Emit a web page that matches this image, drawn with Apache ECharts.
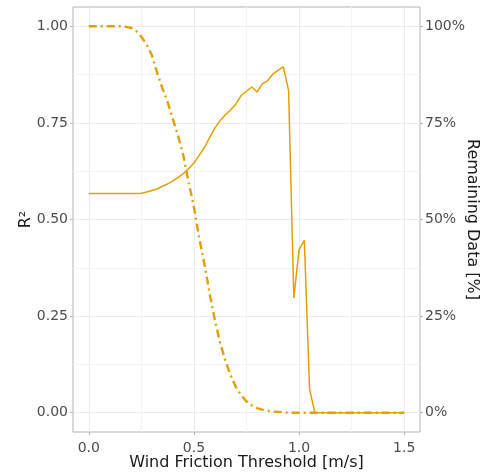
<!DOCTYPE html>
<html>
<head>
<meta charset="utf-8">
<script src="https://cdn.jsdelivr.net/npm/echarts@6/dist/echarts.min.js"></script>
<style>
  html, body { margin: 0; padding: 0; background: #fff; }
  #chart { width: 482px; height: 472px; }
</style>
</head>
<body>
<div id="chart"></div>
<script>
// wind friction thresholds [m/s]
var thresholds = [
  0, 0.025, 0.05, 0.075, 0.1, 0.125, 0.15, 0.175, 0.2, 0.225,
  0.25, 0.275, 0.3, 0.325, 0.35, 0.375, 0.4, 0.425, 0.45, 0.475,
  0.5, 0.525, 0.55, 0.575, 0.6, 0.625, 0.65, 0.675, 0.7, 0.725,
  0.75, 0.775, 0.8, 0.825, 0.85, 0.875, 0.9, 0.925, 0.95, 0.975,
  1.0, 1.025, 1.05, 1.075, 1.1, 1.125, 1.15, 1.175, 1.2, 1.225,
  1.25, 1.275, 1.3, 1.325, 1.35, 1.375, 1.4, 1.425, 1.45, 1.475, 1.5
];

// R² of the fit
var rSquared = [
  0.567, 0.567, 0.567, 0.567, 0.567, 0.567, 0.567, 0.567, 0.567, 0.567,
  0.568, 0.571, 0.575, 0.579, 0.586, 0.592, 0.600, 0.609, 0.619, 0.632,
  0.646, 0.666, 0.687, 0.712, 0.737, 0.756, 0.771, 0.784, 0.799, 0.821,
  0.832, 0.843, 0.830, 0.851, 0.859, 0.876, 0.886, 0.895, 0.835, 0.297,
  0.422, 0.446, 0.060, 0, 0, 0, 0, 0, 0, 0,
  0, 0, 0, 0, 0, 0, 0, 0, 0, 0, 0
];

// share of data remaining (0..1)
var remaining = [
  1.0, 1.0, 1.0, 1.0, 1.0, 1.0, 1.0, 0.999, 0.996, 0.988,
  0.973, 0.953, 0.925, 0.880, 0.840, 0.804, 0.760, 0.716, 0.665, 0.596,
  0.532, 0.452, 0.385, 0.307, 0.239, 0.180, 0.134, 0.096, 0.066, 0.045,
  0.029, 0.019, 0.012, 0.008, 0.005, 0.003, 0.002, 0.001, 0, 0,
  0, 0, 0, 0, 0, 0, 0, 0, 0, 0,
  0, 0, 0, 0, 0, 0, 0, 0, 0, 0, 0
];

var xTicks = [0, 0.5, 1.0, 1.5];
var xMinor = [0.25, 0.75, 1.25];
var yTicks = [0, 0.25, 0.5, 0.75, 1.0];
var yMinor = [0.125, 0.375, 0.625, 0.875];

var orange = '#E69F00';
var font = '"DejaVu Sans", sans-serif';

var chart = echarts.init(document.getElementById('chart'), null, { renderer: 'canvas' });

function pairs(ys) {
  return thresholds.map(function (x, i) { return [x, ys[i]]; });
}

var option = {
  animation: false,
  backgroundColor: '#fff',
  textStyle: { fontFamily: font },
  grid: {
    left: 73, right: 62, top: 7, bottom: 40,
    outerBoundsMode: 'none', containLabel: false,
    show: true, borderColor: '#b3b3b3', borderWidth: 1, backgroundColor: 'transparent'
  },
  xAxis: [
    {
      type: 'value', min: -0.075, max: 1.575,
      name: 'Wind Friction Threshold [m/s]',
      nameLocation: 'middle', nameGap: 23, nameMoveOverlap: false,
      nameTextStyle: { fontSize: 16, color: '#1a1a1a', fontFamily: font },
      axisLine: { show: false, onZero: false },
      axisTick: { show: true, length: 3, customValues: xTicks, lineStyle: { color: '#b3b3b3' } },
      axisLabel: {
        customValues: xTicks, margin: 9, fontSize: 14, color: '#4d4d4d', fontFamily: font,
        formatter: function (v) { return v.toFixed(1); }
      },
      splitLine: { show: true, lineStyle: { color: '#ebebeb', width: 1 } }
    },
    {
      type: 'value', min: -0.075, max: 1.575,
      axisLine: { show: false, onZero: false },
      axisTick: { show: false, customValues: xMinor },
      axisLabel: { show: false, customValues: xMinor },
      splitLine: { show: true, lineStyle: { color: '#f3f3f3', width: 1 } }
    }
  ],
  yAxis: [
    {
      type: 'value', min: -0.05, max: 1.05, position: 'left',
      name: 'R²', nameLocation: 'middle', nameGap: 39, nameRotate: 90, nameMoveOverlap: false,
      nameTextStyle: { fontSize: 16, color: '#1a1a1a', fontFamily: font },
      axisLine: { show: false, onZero: false },
      axisTick: { show: true, length: 3, customValues: yTicks, lineStyle: { color: '#b3b3b3' } },
      axisLabel: {
        customValues: yTicks, margin: 5, fontSize: 14, color: '#4d4d4d', fontFamily: font,
        formatter: function (v) { return v.toFixed(2); }
      },
      splitLine: { show: true, lineStyle: { color: '#ebebeb', width: 1 } }
    },
    {
      type: 'value', min: -0.05, max: 1.05, position: 'right',
      name: 'Remaining Data [%]', nameLocation: 'middle', nameGap: 44, nameRotate: -90, nameMoveOverlap: false,
      nameTextStyle: { fontSize: 16, color: '#1a1a1a', fontFamily: font },
      axisLine: { show: false, onZero: false },
      axisTick: { show: true, length: 3, customValues: yTicks, lineStyle: { color: '#b3b3b3' } },
      axisLabel: {
        customValues: yTicks, margin: 5, fontSize: 14, color: '#4d4d4d', fontFamily: font,
        formatter: function (v) { return Math.round(v * 100) + '%'; }
      },
      splitLine: { show: false }
    },
    {
      type: 'value', min: -0.05, max: 1.05, position: 'left',
      axisLine: { show: false, onZero: false },
      axisTick: { show: false, customValues: yMinor },
      axisLabel: { show: false, customValues: yMinor },
      splitLine: { show: true, lineStyle: { color: '#f3f3f3', width: 1 } }
    }
  ],
  series: [
    {
      name: 'Remaining Data',
      type: 'line',
      xAxisIndex: 0, yAxisIndex: 1,
      data: pairs(remaining),
      showSymbol: false,
      lineStyle: { color: orange, width: 2.4, type: [8, 4, 2, 4] }
    },
    {
      name: 'R²',
      type: 'line',
      xAxisIndex: 0, yAxisIndex: 0,
      data: pairs(rSquared),
      showSymbol: false,
      lineStyle: { color: orange, width: 1.5 }
    }
  ]
};

chart.setOption(option);
</script>
</body>
</html>
